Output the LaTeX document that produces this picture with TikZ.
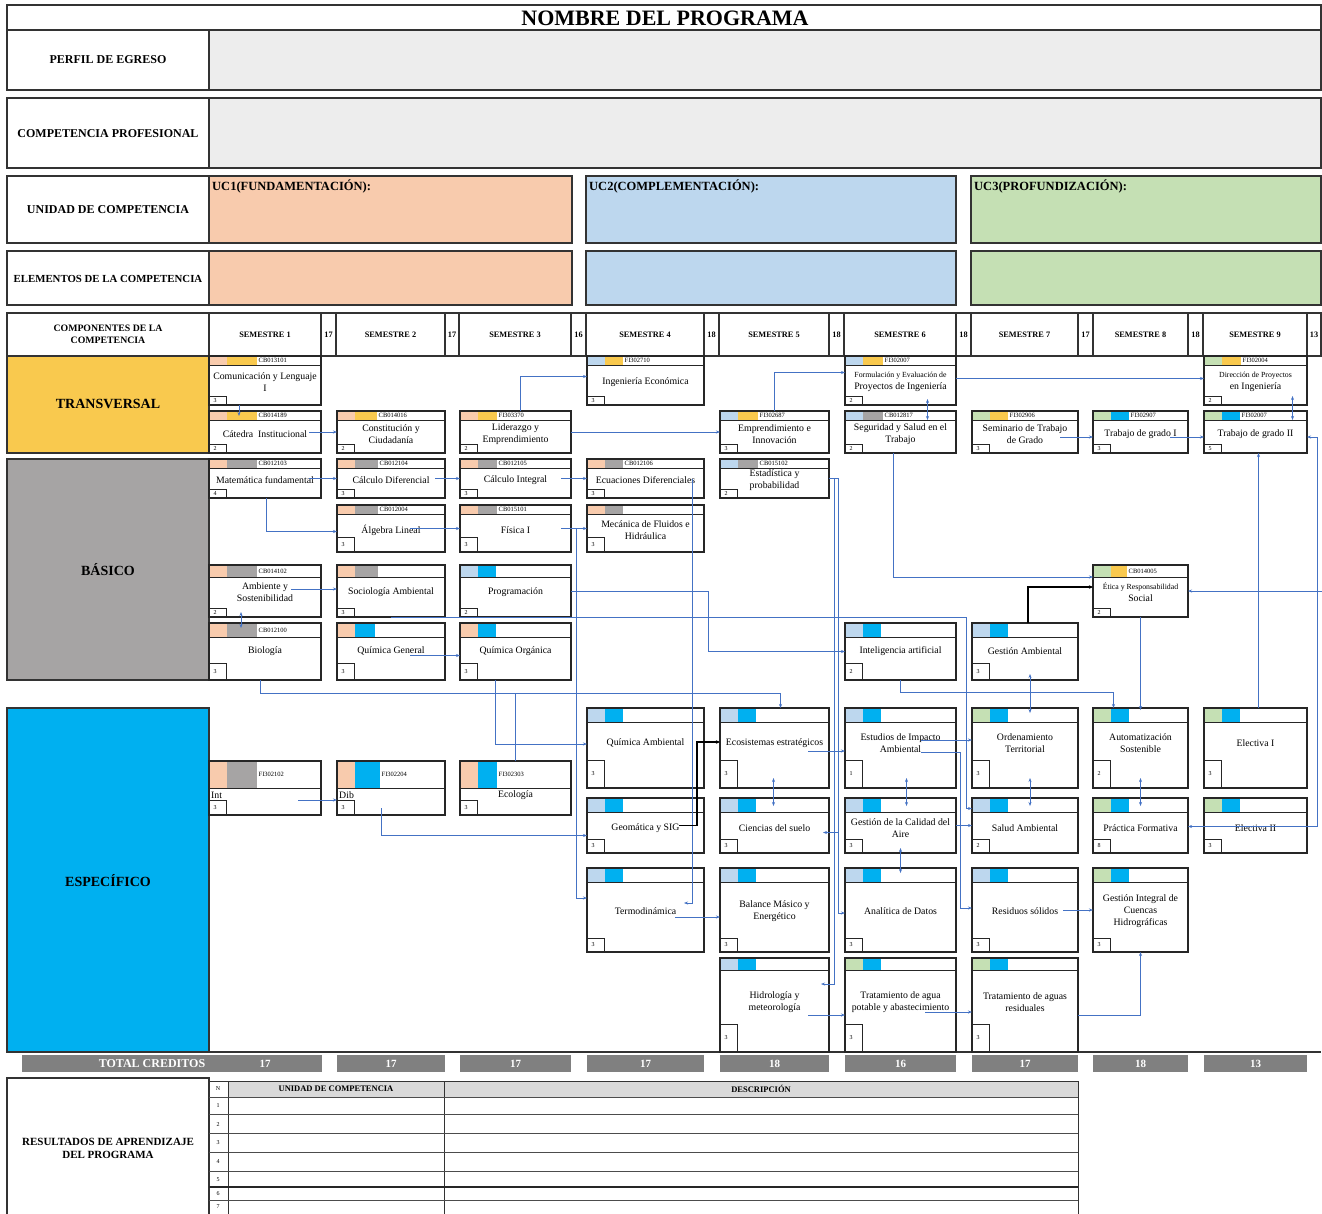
\documentclass[tikz,border=0pt]{standalone}
\usepackage{fontspec}
\setmainfont{Liberation Serif}
\usetikzlibrary{arrows.meta,calc}
\definecolor{cpeach}{HTML}{F8CBAD}
\definecolor{clblue}{HTML}{BDD7EE}
\definecolor{cgreen}{HTML}{C5E0B4}
\definecolor{cyel}{HTML}{F9C94E}
\definecolor{cgray}{HTML}{A6A4A4}
\definecolor{cblue}{HTML}{00B0F0}
\definecolor{cbar}{HTML}{808080}
\definecolor{cpale}{HTML}{EDEDED}
\definecolor{carr}{HTML}{4472C4}
\newcommand\csmall{\fontsize{7.8}{9.2}\selectfont}
\tikzset{
  frame/.style={draw=black!80, line width=1.2pt},
  cbox/.style={draw=black!85, line width=1.2pt, inner sep=0pt, outer sep=0pt},
  cline/.style={draw=black!85, line width=0.8pt},
  ccode/.style={font=\fontsize{6.5}{7}\selectfont, anchor=west, inner sep=0.5pt},
  ccred/.style={font=\fontsize{6}{6}\selectfont, inner sep=0pt},
  cname/.style={font=\fontsize{9.8}{11.8}\selectfont, align=center, inner sep=0pt},
  hlab/.style={font=\bfseries\fontsize{12}{13.5}\selectfont, align=center, inner sep=0pt},
  catlab/.style={font=\bfseries\fontsize{14}{16}\selectfont, inner sep=0pt},
  uclab/.style={font=\bfseries\fontsize{12.5}{13}\selectfont, anchor=north west, inner sep=0pt},
  semh/.style={font=\bfseries\fontsize{8.3}{9}\selectfont, inner sep=0pt},
  semn/.style={font=\bfseries\fontsize{8.3}{9}\selectfont, inner sep=0pt},
  totl/.style={font=\bfseries\fontsize{12}{13}\selectfont, text=white, inner sep=0pt},
  totn/.style={font=\bfseries\fontsize{11}{12}\selectfont, text=white, inner sep=0pt},
  rth/.style={font=\bfseries\fontsize{8.5}{9}\selectfont, inner sep=0pt},
  rtn/.style={font=\fontsize{6}{6}\selectfont, inner sep=0pt},
  arr/.style={draw=carr, line width=0.6pt, -{Stealth[length=4pt,width=3pt]}},
  darr/.style={draw=carr, line width=0.6pt, {Stealth[length=4pt,width=3pt]}-{Stealth[length=4pt,width=3pt]}},
  plainline/.style={draw=carr, line width=0.6pt},
  barr/.style={draw=black, line width=1.5pt, -{Stealth[length=4pt,width=3.5pt]}},
}
% course box: id x1 y1 x2 y2 colour1 colour2 width2 code | strip credH credit dy text
\newcommand\crs[9]{\def\cid{#1}\def\cxa{#2}\def\cya{#3}\def\cxb{#4}\def\cyb{#5}%
  \def\cca{#6}\def\ccb{#7}\def\cwb{#8}\def\ccode{#9}\crsB}
\newcommand\crsB[5]{%
  \pgfmathsetmacro\crsw{\cxb-\cxa}\pgfmathsetmacro\crsh{\cyb-\cya}%
  \fill[white] (\cxa,\cya) rectangle (\cxb,\cyb);
  \fill[\cca] (\cxa,\cya) rectangle ++(18,#1);
  \fill[\ccb] (\cxa+18,\cya) rectangle ++(\cwb,#1);
  \draw[cline] (\cxa,\cya+#1) -- (\cxb,\cya+#1);
  \node[ccode] (\cid-c) at (\cxa+18+\cwb+1,\cya+#1/2) {\ccode};
  \draw[cline] (\cxa,\cyb-#2) rectangle (\cxa+17,\cyb);
  \node[ccred] (\cid-k) at (\cxa+6,\cyb-#2/2) {#3};
  \node[cname] (\cid-t) at ({(\cxa+\cxb)/2},\cya+#4) {#5};
  \node[cbox, minimum width=\crsw pt, minimum height=\crsh pt] (\cid) at ({(\cxa+\cxb)/2},{(\cya+\cyb)/2}) {};
}
\begin{document}
\begin{tikzpicture}[x=1pt,y=-1pt]
\useasboundingbox (0,0) rectangle (1322,1213);
\fill[white] (0,0) rectangle (1322,1213);
% ---------- header ----------
\draw[frame] (7,5) rectangle (1321,30);
\node[font=\bfseries\fontsize{22}{22}\selectfont, inner sep=0pt] (title) at (665,18) {NOMBRE DEL PROGRAMA};
\draw[frame] (7,30) rectangle (209,90);
\filldraw[frame, fill=cpale] (209,30) rectangle (1321,90);
\node[hlab] (perf) at (108,60) {PERFIL DE EGRESO};
\draw[frame] (7,98) rectangle (209,168);
\filldraw[frame, fill=cpale] (209,98) rectangle (1321,168);
\node[hlab] (comp) at (108,134) {COMPETENCIA PROFESIONAL};
\draw[frame] (7,176) rectangle (209,243);
\filldraw[frame, fill=cpeach] (209,176) rectangle (572,243);
\filldraw[frame, fill=clblue] (586,176) rectangle (956,243);
\filldraw[frame, fill=cgreen] (971,176) rectangle (1321,243);
\node[hlab] (unid) at (108,210) {UNIDAD DE COMPETENCIA};
\node[uclab] (uc1) at (212,180) {UC1(FUNDAMENTACIÓN):};
\node[uclab] (uc2) at (589,180) {UC2(COMPLEMENTACIÓN):};
\node[uclab] (uc3) at (974,180) {UC3(PROFUNDIZACIÓN):};
\draw[frame] (7,251) rectangle (209,305);
\filldraw[frame, fill=cpeach] (209,251) rectangle (572,305);
\filldraw[frame, fill=clblue] (586,251) rectangle (956,305);
\filldraw[frame, fill=cgreen] (971,251) rectangle (1321,305);
\node[hlab, font=\bfseries\fontsize{10.8}{12}\selectfont] (elem) at (108,279) {ELEMENTOS DE LA COMPETENCIA};
\draw[frame] (7,313) rectangle (209,356);
\node[hlab, font=\bfseries\fontsize{9.8}{12}\selectfont] (compo) at (108,334) {COMPONENTES DE LA\\COMPETENCIA};
\foreach \a/\b/\c/\n/\k in {209/321/336/1/17,336/445/459/2/17,459/571/586/3/16,586/704/719/4/18,719/829/844/5/18,844/956/971/6/18,971/1078/1093/7/17,1093/1188/1203/8/18,1203/1307/1321/9/13}{
  \draw[frame] (\a,313) rectangle (\b,356);
  \draw[frame] (\b,313) rectangle (\c,356);
  \node[semh] (sem\n) at ({(\a+\b)/2},335) {SEMESTRE \n};
  \node[semn] (semc\n) at ({(\b+\c)/2},335) {\k};
}
% ---------- categories ----------
\filldraw[frame, fill=cyel] (7,356) rectangle (209,453);
\node[catlab] (trans) at (108,404) {TRANSVERSAL};
\filldraw[frame, fill=cgray] (7,459) rectangle (209,680);
\node[catlab] (bas) at (108,570) {BÁSICO};
\filldraw[frame, fill=cblue] (7,708) rectangle (209,1052);
\node[catlab] (esp) at (108,881) {ESPECÍFICO};
\draw[frame] (209,1052) -- (1321,1052);
% ---------- transversal ----------
\crs{com}{209}{356}{321}{405}{cpeach}{cyel}{30}{CB013101}{9}{9}{3}{26}{Comunicación y Lenguaje\\I}
\crs{ieco}{587}{356}{704}{405}{clblue}{cyel}{18}{FI302710}{9}{9}{3}{26}{Ingeniería Económica}
\crs{form}{845}{356}{956}{405}{clblue}{cyel}{20}{FI302007}{9}{9}{2}{26}{\csmall Formulación y Evaluación de\\Proyectos de Ingeniería}
\crs{dir}{1204}{356}{1307}{405}{cgreen}{cyel}{19}{FI302004}{9}{9}{2}{26}{\csmall Dirección de Proyectos\\en Ingeniería}
\crs{cat}{209}{411}{321}{453}{cpeach}{cyel}{30}{CB014189}{9}{9}{2}{23}{Cátedra\ \ Institucional}
\crs{cons}{337}{411}{445}{453}{cpeach}{cyel}{22}{CB014016}{9}{9}{2}{23}{Constitución y\\Ciudadanía}
\crs{lid}{460}{411}{571}{453}{cpeach}{cyel}{19}{FI303370}{9}{9}{2}{23}{Liderazgo y\\Emprendimiento}
\crs{emp}{720}{411}{829}{453}{clblue}{cyel}{20}{FI302687}{9}{9}{3}{23}{Emprendimiento e\\Innovación}
\crs{seg}{845}{411}{956}{453}{clblue}{cgray}{20}{CB012817}{9}{9}{2}{23}{Seguridad y Salud en el\\Trabajo}
\crs{stg}{972}{411}{1078}{453}{cgreen}{cyel}{18}{FI302906}{9}{9}{3}{23}{Seminario de Trabajo\\de Grado}
\crs{tg1}{1093}{411}{1188}{453}{cgreen}{cblue}{18}{FI302907}{9}{9}{3}{23}{Trabajo de grado I}
\crs{tg2}{1204}{411}{1307}{453}{cgreen}{cblue}{18}{FI302007}{9}{9}{5}{23}{Trabajo de grado II}
% ---------- basico ----------
\crs{mat}{209}{459}{321}{498}{cpeach}{cgray}{30}{CB012103}{9}{9}{4}{21}{Matemática fundamental}
\crs{cdif}{337}{459}{445}{498}{cpeach}{cgray}{23}{CB012104}{9}{9}{3}{21}{Cálculo Diferencial}
\crs{cint}{460}{459}{571}{498}{cpeach}{cgray}{19}{CB012105}{9}{9}{3}{21}{Cálculo Integral}
\crs{ecd}{587}{459}{704}{498}{cpeach}{cgray}{18}{CB012106}{9}{9}{3}{21}{Ecuaciones Diferenciales}
\crs{est}{720}{459}{829}{498}{clblue}{cgray}{20}{CB015102}{9}{9}{2}{21}{Estadística y\\probabilidad}
\crs{alg}{337}{505}{445}{552}{cpeach}{cgray}{23}{CB012004}{9}{15}{3}{25}{Álgebra Lineal}
\crs{fis}{460}{505}{571}{552}{cpeach}{cgray}{19}{CB015101}{9}{15}{3}{25}{Física I}
\crs{mec}{587}{505}{704}{552}{cpeach}{cgray}{18}{}{9}{15}{3}{25}{Mecánica de Fluidos e\\Hidráulica}
\crs{amb}{209}{565}{321}{617}{cpeach}{cgray}{30}{CB014102}{12}{9}{2}{27}{Ambiente y\\Sostenibilidad}
\crs{soc}{337}{565}{445}{617}{cpeach}{cgray}{23}{}{12}{9}{3}{27}{Sociología Ambiental}
\crs{prog}{460}{565}{571}{617}{clblue}{cblue}{18}{}{12}{9}{2}{27}{Programación}
\crs{etica}{1093}{565}{1188}{617}{cgreen}{cyel}{16}{CB014005}{12}{9}{2}{27}{\csmall Ética y Responsabilidad\\Social}
\crs{bio}{209}{623}{321}{680}{cpeach}{cgray}{30}{CB012100}{14}{17}{3}{28}{Biología}
\crs{qgen}{337}{623}{445}{680}{cpeach}{cblue}{20}{}{14}{17}{3}{28}{Química General}
\crs{qorg}{460}{623}{571}{680}{cpeach}{cblue}{18}{}{14}{17}{3}{28}{Química Orgánica}
\crs{ia}{845}{623}{956}{680}{clblue}{cblue}{18}{}{14}{17}{2}{28}{Inteligencia artificial}
\crs{gamb}{972}{623}{1078}{680}{clblue}{cblue}{18}{}{14}{17}{3}{28}{Gestión Ambiental}
% ---------- especifico ----------
\crs{qamb}{587}{708}{704}{788}{clblue}{cblue}{18}{}{14}{28}{3}{35}{Química Ambiental}
\crs{eco}{720}{708}{829}{788}{clblue}{cblue}{18}{}{14}{28}{3}{35}{Ecosistemas estratégicos}
\crs{eia}{845}{708}{956}{788}{clblue}{cblue}{18}{}{14}{28}{1}{35}{Estudios de Impacto\\Ambiental}
\crs{ord}{972}{708}{1078}{788}{cgreen}{cblue}{18}{}{14}{28}{3}{35}{Ordenamiento\\Territorial}
\crs{aut}{1093}{708}{1188}{788}{cgreen}{cblue}{18}{}{14}{28}{2}{35}{Automatización\\Sostenible}
\crs{el1}{1204}{708}{1307}{788}{cgreen}{cblue}{18}{}{14}{28}{3}{35}{Electiva I}
\crs{int}{209}{761}{321}{815}{cpeach}{cgray}{30}{FI302102}{27}{15}{3}{34}{}
\crs{dib}{337}{761}{445}{815}{cpeach}{cblue}{25}{FI302204}{27}{15}{3}{34}{}
\crs{ecol}{460}{761}{571}{815}{cpeach}{cblue}{19}{FI302303}{27}{15}{3}{34}{Ecología}
\node[cname, anchor=west] (intname) at (211,795) {Int};
\node[cname, anchor=west] (dibname) at (339,795) {Dib};
\crs{geo}{587}{798}{704}{853}{clblue}{cblue}{18}{}{14}{14}{3}{30}{Geomática y SIG}
\crs{csu}{720}{798}{829}{853}{clblue}{cblue}{18}{}{14}{14}{3}{30}{Ciencias del suelo}
\crs{gca}{845}{798}{956}{853}{clblue}{cblue}{18}{}{14}{14}{3}{30}{Gestión de la Calidad del\\Aire}
\crs{sal}{972}{798}{1078}{853}{clblue}{cblue}{18}{}{14}{14}{2}{30}{Salud Ambiental}
\crs{pra}{1093}{798}{1188}{853}{cgreen}{cblue}{18}{}{14}{14}{8}{30}{Práctica Formativa}
\crs{el2}{1204}{798}{1307}{853}{cgreen}{cblue}{18}{}{14}{14}{3}{30}{Electiva II}
\crs{ter}{587}{868}{704}{952}{clblue}{cblue}{18}{}{14}{14}{3}{43}{Termodinámica}
\crs{bal}{720}{868}{829}{952}{clblue}{cblue}{18}{}{14}{14}{3}{43}{Balance Másico y\\Energético}
\crs{ana}{845}{868}{956}{952}{clblue}{cblue}{18}{}{14}{14}{3}{43}{Analítica de Datos}
\crs{res}{972}{868}{1078}{952}{clblue}{cblue}{18}{}{14}{14}{3}{43}{Residuos sólidos}
\crs{gic}{1093}{868}{1188}{952}{cgreen}{cblue}{18}{}{14}{14}{3}{43}{Gestión Integral de\\Cuencas\\Hidrográficas}
\crs{hid}{720}{958}{829}{1052}{clblue}{cblue}{18}{}{12}{28}{3}{44}{Hidrología y\\meteorología}
\crs{tap}{845}{958}{956}{1052}{cgreen}{cblue}{18}{}{12}{28}{3}{44}{Tratamiento de agua\\potable y abastecimiento}
\crs{tar}{972}{958}{1078}{1052}{cgreen}{cblue}{18}{}{12}{28}{3}{44}{Tratamiento de aguas\\residuales}
% ---------- connectors ----------
\draw[arr] ([xshift=-26pt]com.south) -- ([xshift=-26pt,yshift=-5pt]cat.north);
\draw[arr] ([xshift=-12pt]cat.east) -- (cons.west);
\draw[arr] ([xshift=5pt]lid.north) |- ([yshift=4pt]ieco.west);
\draw[arr] (lid.east) -- (emp.west);
\draw[arr] (emp.north) |- ([yshift=8pt]form.west);
\draw[darr] ([xshift=27pt,yshift=6pt]form.south) -- ([xshift=27pt,yshift=-9pt]seg.north);
\draw[arr] ([yshift=2pt]form.east) -- ([yshift=2pt]dir.west);
\draw[arr] ([xshift=-18pt,yshift=-5pt]stg.east) -- ([yshift=-5pt]tg1.west);
\draw[arr] ([xshift=-18pt,yshift=-5pt]tg1.east) -- ([yshift=-5pt]tg2.west);
\draw[darr] ([xshift=37pt,yshift=9pt]dir.south) -- ([xshift=37pt,yshift=-9pt]tg2.north);
\coordinate (rb) at ([xshift=10pt,yshift=-1pt]el2.east);
\draw[arr] (rb) |- ([yshift=-5pt]tg2.east);
\draw[arr] (rb) -- ([yshift=-1pt]pra.east);
\draw[arr] ($(rb |- etica.east)+(5,0)$) -- (etica.east);
\draw[arr] ([xshift=-7pt]seg.south) |- ([yshift=14pt]etica.west);
\draw[barr] ([xshift=3pt]gamb.north) |- ([yshift=4pt]etica.west);
\draw[arr] ([xshift=3pt]el1.north) -- ([xshift=3pt]tg2.south);
\draw[arr] ([xshift=-12pt]mat.east) -- (cdif.west);
\draw[arr] ([xshift=-10pt]cdif.east) -- (cint.west);
\draw[arr] ([xshift=-10pt]cint.east) -- (ecd.west);
\draw[arr] ([xshift=1pt]mat.south) |- ([yshift=-3pt]alg.west);
\draw[arr] ([xshift=-35pt]alg.east) -- (fis.west);
\draw[arr] ([xshift=-10pt]fis.east) -- (mec.west);
\draw[arr] ([xshift=-30pt,yshift=2pt]amb.east) -- ([yshift=2pt]soc.west);
\draw[darr] ([xshift=-24pt,yshift=-5pt]bio.north) -- ([xshift=-24pt,yshift=5pt]amb.south);
\draw[arr] ([xshift=-35pt,yshift=-4pt]qgen.east) -- ([yshift=-4pt]qorg.west);
\draw[arr] (prog.east) -- ++(137,0) |- (ia.west);
\draw[arr] (fis.east) -- ++(5,0) |- ([yshift=12pt]ter.west);
\draw[arr] ([xshift=-12pt]ecd.east) -- ([xshift=-12pt,yshift=7pt]ter.east) -- ([xshift=-20pt,yshift=7pt]ter.east);
\draw[arr] (est.east) -- ++(9,0) |- ([yshift=-3pt]ana.west);
\draw[arr] ([xshift=9pt,yshift=-7pt]csu.east) -- ([xshift=-6pt,yshift=-7pt]csu.east);
\draw[arr] (est.east) -- ++(5,0) |- ([xshift=-8pt,yshift=21pt]hid.east);
\draw[arr] ([xshift=-5pt]bio.south) -- ++(0,13) -| ([xshift=6pt]eco.north);
\draw[plainline] (ecol.north) -- ++(0,-67);
\draw[arr] ([xshift=-20pt]qorg.south) |- ([yshift=4pt]qamb.west);
\draw[arr] (ia.south) -- ++(0,12) -| ([xshift=-27pt]aut.north);
\draw[arr] (etica.south) -- ([yshift=-2pt]aut.north);
\draw[darr] ([xshift=5pt,yshift=6pt]gamb.south) -- ([xshift=5pt,yshift=-5pt]ord.north);
\draw[arr] ([xshift=-23pt,yshift=-12pt]int.east) -- ([yshift=-12pt]dib.west);
\draw[arr] ([xshift=-10pt,yshift=7pt]dib.south) |- ([yshift=-10pt]geo.west);
\draw[barr] ([xshift=-25pt]geo.east) -- ++(18,0) |- ([yshift=6pt]eco.west);
\draw[arr] ([xshift=-21pt,yshift=-3pt]eco.east) -- ([yshift=-3pt]eia.west);
\draw[darr] ([xshift=-1pt,yshift=10pt]eco.south) -- ([xshift=-1pt,yshift=-8pt]csu.north);
\draw[arr] ([xshift=-35pt,yshift=8pt]eia.east) -- ([yshift=8pt]ord.west);
\draw[darr] ([xshift=6pt,yshift=10pt]eia.south) -- ([xshift=6pt,yshift=-8pt]gca.north);
\draw[darr] ([xshift=5pt,yshift=10pt]ord.south) -- ([xshift=5pt,yshift=-8pt]sal.north);
\draw[darr] ([yshift=10pt]aut.south) -- ([yshift=-8pt]pra.north);
\draw[arr] (gca.east) -- (sal.west);
\draw[darr] ([yshift=5pt]gca.south) -- ([yshift=-5pt]ana.north);
\draw[arr] (soc.south) -- ++(575,0) |- ([yshift=17pt]sal.west);
\draw[arr] ([xshift=-35pt,yshift=-4pt]eia.east) -- ++(39,0) |- ([yshift=2pt]res.west);
\draw[arr] ([xshift=-15pt]res.east) -- (gic.west);
\draw[arr] ([yshift=-10pt]tar.east) -| (gic.south);
\draw[arr] ([xshift=-29pt,yshift=-7pt]ter.east) -- ([yshift=-7pt]bal.west);
\draw[arr] ([xshift=-21pt,yshift=-10pt]hid.east) -- ([yshift=-10pt]tap.west);
\draw[arr] ([xshift=-31pt,yshift=-7pt]tap.east) -- ([yshift=-7pt]tar.west);
% ---------- totals ----------
\fill[cbar] (22,1055) rectangle (322,1072);
\node[totl] (totlab) at (152,1063.5) {TOTAL CREDITOS};
\node[totn] (tot1) at (265,1063.5) {17};
\foreach \a/\b/\k/\n in {337/445/17/2,460/571/17/3,587/704/17/4,720/829/18/5,845/956/16/6,972/1078/17/7,1093/1188/18/8,1204/1307/13/9}{
  \fill[cbar] (\a,1055) rectangle (\b,1072);
  \node[totn] (tot\n) at ({(\a+\b)/2},1063.5) {\k};
}
% ---------- results table ----------
\draw[frame] (7,1078) rectangle (209,1215);
\node[hlab, font=\bfseries\fontsize{11}{13}\selectfont] (resl) at (108,1148) {RESULTADOS DE APRENDIZAJE\\DEL PROGRAMA};
\fill[black!15] (228,1081) rectangle (1078,1097);
\draw[frame, line width=1pt] (209,1081) rectangle (1078,1215);
\draw[frame, line width=1pt] (228,1081) -- (228,1215);
\draw[frame, line width=1pt] (444,1081) -- (444,1215);
\foreach \y in {1097,1114,1133,1152,1171,1200}{\draw[draw=black!70, line width=0.8pt] (209,\y) -- (1078,\y);}
\draw[draw=black!85, line width=1.5pt] (209,1187) -- (1078,1187);
\node[rtn] (rn0) at (218,1089) {N};
\node[rth] (rhu) at (336,1089) {UNIDAD DE COMPETENCIA};
\node[rth] (rhd) at (761,1089) {DESCRIPCIÓN};
\foreach \n/\y in {1/1105.5,2/1124,3/1143,4/1162,5/1180,6/1194,7/1207}{\node[rtn] (rn\n) at (218,\y) {\n};}
\end{tikzpicture}
\end{document}
